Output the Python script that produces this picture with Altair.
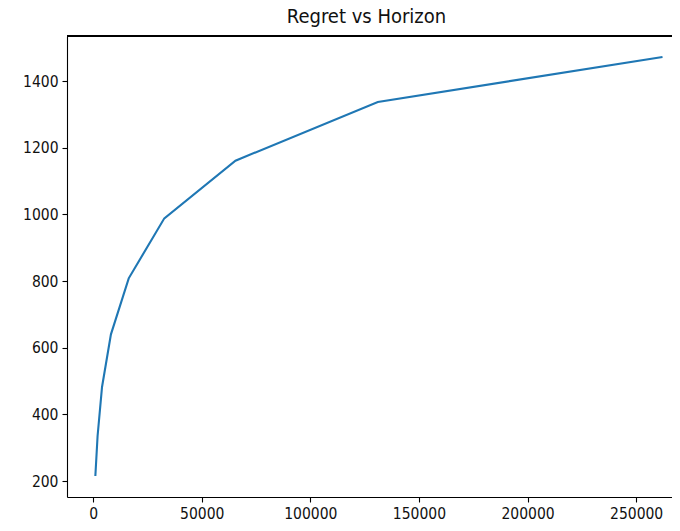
import altair as alt
import pandas as pd

horizon = [1024, 2048, 4096, 8192, 16384, 32768, 65536, 131072, 262144]
regret = [215, 335, 482, 640, 808, 988, 1161, 1337, 1472]

x_ticks = [0, 50000, 100000, 150000, 200000, 250000]
y_ticks = [200, 400, 600, 800, 1000, 1200, 1400]

df = pd.DataFrame({"horizon": horizon, "regret": regret})

W, H = 605, 461
FONT = "DejaVu Sans Condensed, DejaVu Sans"

axis_style = dict(title=None, format="d", grid=False,
                  domainColor="black", domainWidth=1.1,
                  tickColor="black", tickSize=5, tickWidth=1.1,
                  labelFont=FONT, labelFontSize=15.5, labelColor="#111111",
                  labelPadding=4)

line = alt.Chart(df).mark_line(color="#1f77b4", strokeWidth=2.1).encode(
    x=alt.X("horizon:Q",
            scale=alt.Scale(domain=[-12032, 266513], nice=False, zero=False),
            axis=alt.Axis(values=x_ticks, **axis_style)),
    y=alt.Y("regret:Q",
            scale=alt.Scale(domain=[152, 1535], nice=False, zero=False),
            axis=alt.Axis(values=y_ticks, **axis_style)),
)

top = alt.Chart(df).mark_rule(color="black", strokeWidth=1.1).encode(
    x=alt.value(0), x2=alt.value(W), y=alt.value(0)
)

chart = alt.layer(line, top).properties(
    width=W, height=H,
    title=alt.TitleParams("Regret vs Horizon", font=FONT, fontSize=20,
                          fontWeight="normal", color="#111111", offset=8, dx=-3),
    autosize=alt.AutoSizeParams(type="none"),
    padding={"left": 59, "top": 28, "right": 0, "bottom": 30},
).configure_view(stroke=None)

chart.save("out.html", embed_options={"renderer": "svg", "actions": False})
